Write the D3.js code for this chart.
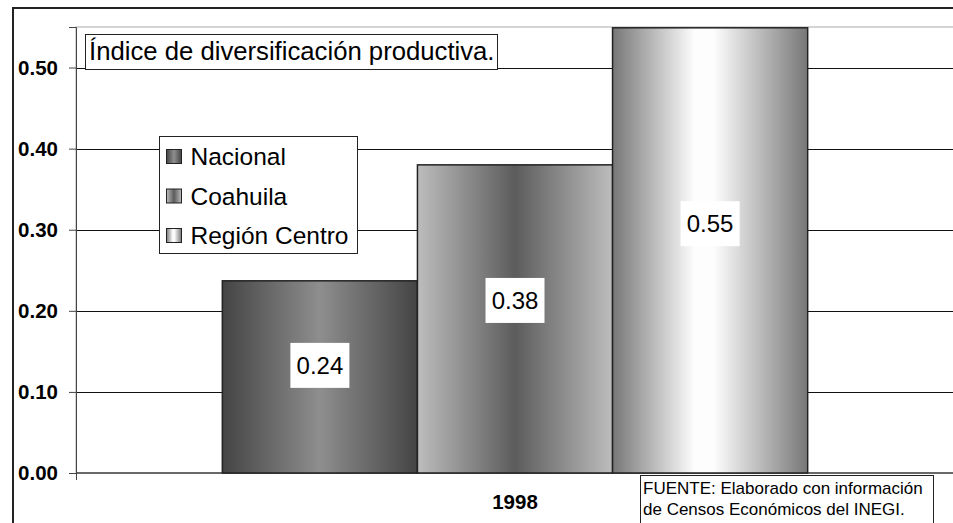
<!DOCTYPE html>
<html>
<head>
<meta charset="utf-8">
<script src="https://cdn.jsdelivr.net/npm/d3@7"></script>
<style>
  body { margin: 0; background: #fff; }
  svg { display: block; font-family: "Liberation Sans", Arial, sans-serif; }
</style>
</head>
<body>
<svg id="chart" width="953" height="523"></svg>
<script>
const categories = ["1998"]
const series = ["Nacional", "Coahuila", "Región Centro"]
const values = [0.237, 0.38, 0.549]
const labels = ["0.24", "0.38", "0.55"]
const yTicks = [0, 0.1, 0.2, 0.3, 0.4, 0.5]

const width = 953, height = 523
const margin = {top: 27, right: -1, bottom: 50, left: 76}

const svg = d3.select('#chart')

// degradados tipo Excel
const grads = [
    [[0, "#444"], [0.5, "#8e8e8e"], [1, "#444"]],
    [[0, "#bdbdbd"], [0.5, "#5c5c5c"], [1, "#bdbdbd"]],
    [[0, "#777"], [0.42, "#fdfdfd"], [0.52, "#fdfdfd"], [1, "#777"]]
]
const defs = svg.append('defs')
grads.forEach((stops, i) => {
    defs.append('linearGradient')
        .attr('id', 'g' + i)
        .attr('x1', 0).attr('x2', 1).attr('y1', 0).attr('y2', 0)
        .selectAll('stop')
        .data(stops)
        .join('stop')
        .attr('offset', d => d[0])
        .attr('stop-color', d => d[1])
})

// marco exterior
svg.append('path')
    .attr('d', `M13,${height + 5}V8H${width + 5}`)
    .attr('fill', 'none')
    .attr('stroke', '#222')
    .attr('stroke-width', 2)

const y = d3.scaleLinear()
    .domain([0, 0.55])
    .range([height - margin.bottom, margin.top])

const x0 = d3.scaleBand()
    .domain(categories)
    .range([margin.left, width - margin.right])

const x1 = d3.scaleBand()
    .domain(series)
    .range([x0.bandwidth() / 6, x0.bandwidth() * 5 / 6])

// marco del area de trazado
svg.append('rect')
    .attr('x', margin.left)
    .attr('y', margin.top)
    .attr('width', width - margin.right - margin.left)
    .attr('height', y(0) - margin.top)
    .attr('fill', 'none')
    .attr('stroke', '#aaa')

// lineas de division
svg.append('g')
    .selectAll('line')
    .data(yTicks.slice(1))
    .join('line')
    .attr('x1', margin.left).attr('x2', width + 5)
    .attr('y1', d => Math.round(y(d)) + 0.5)
    .attr('y2', d => Math.round(y(d)) + 0.5)
    .attr('stroke', '#111')

// eje y
const yAxis = svg.append('g')
    .attr('transform', `translate(${margin.left},0)`)
    .call(d3.axisLeft(y).tickValues(yTicks).tickFormat(d3.format('.2f')).tickSizeOuter(0).tickSize(7))
yAxis.select('.domain').attr('stroke', '#444')
yAxis.selectAll('.tick line').attr('stroke', '#444')
yAxis.selectAll('.tick text')
    .attr('x', -18)
    .attr('font-size', 20.5)
    .attr('font-weight', 'bold')
    .attr('font-family', '"Liberation Sans", Arial, sans-serif')
    .attr('fill', '#000')

// eje x
svg.append('line')
    .attr('x1', margin.left).attr('x2', width + 5)
    .attr('y1', y(0)).attr('y2', y(0))
    .attr('stroke', '#444').attr('stroke-width', 1.5)
svg.append('line')
    .attr('x1', margin.left + 0.5).attr('x2', margin.left + 0.5)
    .attr('y1', y(0)).attr('y2', y(0) + 7)
    .attr('stroke', '#444')

svg.append('g')
    .selectAll('text')
    .data(categories)
    .join('text')
    .attr('x', d => x0(d) + x0.bandwidth() / 2)
    .attr('y', y(0) + 36)
    .attr('text-anchor', 'middle')
    .attr('font-size', 20.5)
    .attr('font-weight', 'bold')
    .text(d => d)

// barras
const g = svg.append('g').attr('transform', `translate(${x0(categories[0])},0)`)
g.selectAll('rect')
    .data(values)
    .join('rect')
    .attr('x', (d, i) => x1(series[i]))
    .attr('y', d => y(d))
    .attr('width', x1.bandwidth())
    .attr('height', d => y(0) - y(d))
    .attr('fill', (d, i) => `url(#g${i})`)
    .attr('stroke', '#222')
    .attr('stroke-width', 1.5)

// etiquetas de datos
const lab = g.selectAll('g.lab')
    .data(values)
    .join('g')
    .attr('class', 'lab')
    .attr('transform', (d, i) => `translate(${x1(series[i]) + x1.bandwidth() / 2},${y(d * 0.56)})`)
lab.append('rect')
    .attr('x', -29.5).attr('y', -22.5)
    .attr('width', 59).attr('height', 45)
    .attr('fill', '#fff')
lab.append('text')
    .attr('text-anchor', 'middle')
    .attr('dy', '0.36em')
    .attr('font-size', 24)
    .text((d, i) => labels[i])

// titulo
svg.append('rect')
    .attr('x', 85.5).attr('y', 34.5)
    .attr('width', 412).attr('height', 35)
    .attr('fill', '#fff').attr('stroke', '#222')
svg.append('text')
    .attr('x', 89).attr('y', 60)
    .attr('font-size', 25.7)
    .text('Índice de diversificación productiva.')

// leyenda
const leg = svg.append('g').attr('transform', 'translate(159.5,136.5)')
leg.append('rect')
    .attr('width', 198).attr('height', 117)
    .attr('fill', '#fff').attr('stroke', '#222')
const item = leg.selectAll('g.item')
    .data(series)
    .join('g')
    .attr('class', 'item')
    .attr('transform', (d, i) => `translate(7,${20 + i * 39.5})`)
item.append('rect')
    .attr('x', 0).attr('y', -7)
    .attr('width', 15).attr('height', 14)
    .attr('fill', (d, i) => `url(#g${i})`)
    .attr('stroke', '#222')
item.append('text')
    .attr('x', 24)
    .attr('dy', '0.36em')
    .attr('font-size', 24.5)
    .text(d => d)

// fuente
svg.append('rect')
    .attr('x', 640.5).attr('y', 475.5)
    .attr('width', 293).attr('height', 60)
    .attr('fill', '#fff').attr('stroke', '#222')
svg.append('text')
    .attr('x', 643).attr('y', 494)
    .attr('font-size', 17)
    .text('FUENTE: Elaborado con información')
svg.append('text')
    .attr('x', 643).attr('y', 515)
    .attr('font-size', 17)
    .text('de Censos Económicos del INEGI.')
</script>
</body>
</html>
